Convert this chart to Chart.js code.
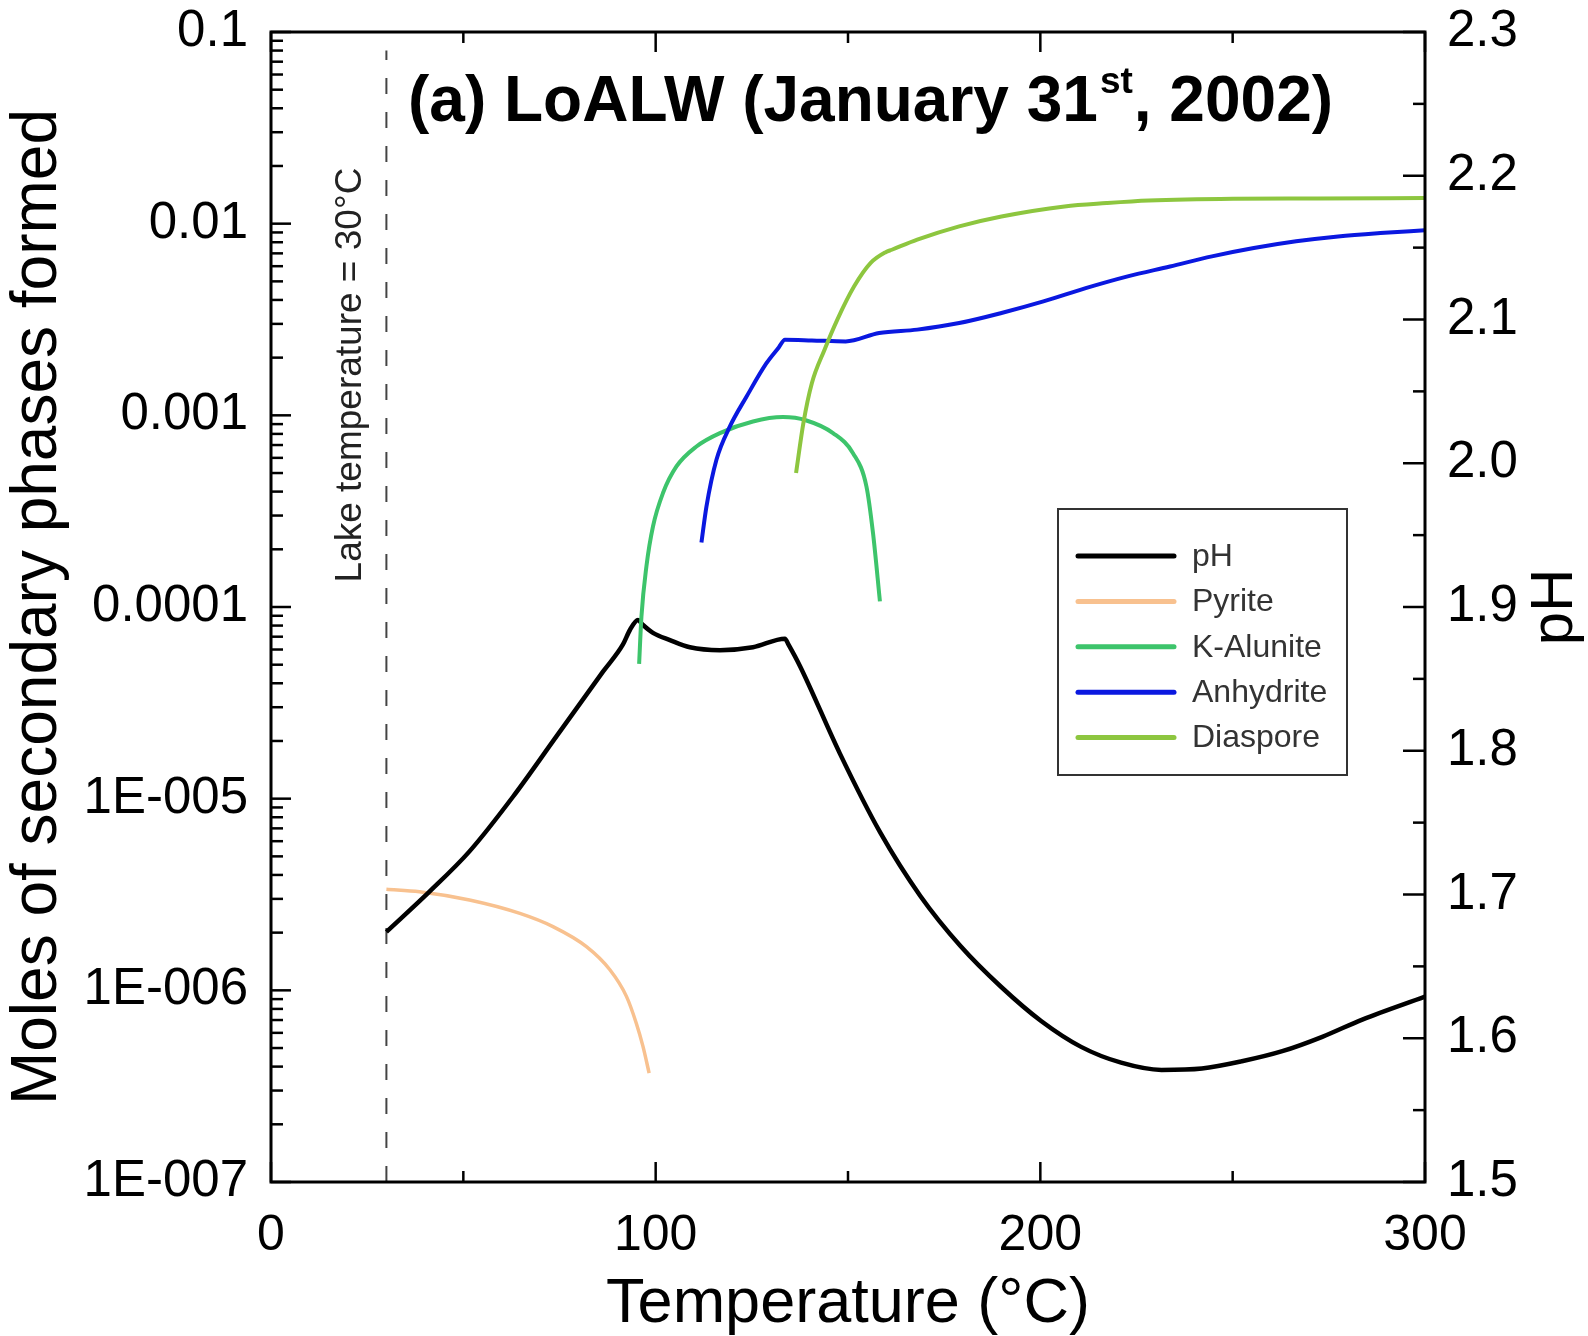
<!DOCTYPE html>
<html>
<head>
<meta charset="utf-8">
<script src="https://cdn.jsdelivr.net/npm/chart.js@4.4.1/dist/chart.umd.min.js"></script>
<style>
html,body{margin:0;padding:0;background:#fff;}
#wrap{width:1588px;height:1336px;position:relative;}
canvas{display:block;}
</style>
</head>
<body>
<div id="wrap"><canvas id="c" width="1588" height="1336"></canvas></div>
<script>
const FONT = '"Liberation Sans", Arial, Helvetica, sans-serif';

// ---- Data ----
const phTemp  = [30, 41.2, 51.6, 62.9, 74.2, 86.3, 91.5, 93.3, 95.4, 96.5, 99.3, 103.7, 108.9, 116.7, 125.3, 133.6, 134.5, 137.5, 147.9, 158.4, 168.8, 179.3, 189.7, 200.2, 210.6, 221.0, 231.5, 242.0, 252.4, 262.9, 273.3, 283.7, 300];
const phValue = [1.674, 1.702, 1.730, 1.768, 1.810, 1.855, 1.874, 1.884, 1.891, 1.888, 1.882, 1.877, 1.872, 1.870, 1.872, 1.878, 1.874, 1.859, 1.798, 1.743, 1.699, 1.664, 1.636, 1.612, 1.594, 1.583, 1.578, 1.579, 1.584, 1.591, 1.601, 1.613, 1.629];

const pyriteTemp  = [30, 38.6, 51.6, 64.7, 73.3, 82.0, 88.1, 92.4, 95.0, 96.7, 98.3];
const pyriteMoles = [3.37e-6, 3.27e-6, 2.96e-6, 2.52e-6, 2.15e-6, 1.69e-6, 1.28e-6, 9.3e-7, 6.7e-7, 5.1e-7, 3.7e-7];

const kAluniteTemp  = [95.7, 96.3, 97.6, 99.3, 101.9, 105.4, 110.6, 116.7, 125.3, 133.1, 139.2, 146.1, 151.3, 154.8, 156.5, 158.3];
const kAluniteMoles = [5.05e-5, 8.9e-5, 1.63e-4, 2.63e-4, 3.93e-4, 5.41e-4, 6.88e-4, 8.08e-4, 9.29e-4, 9.79e-4, 9.40e-4, 8.08e-4, 6.35e-4, 4.25e-4, 2.43e-4, 1.07e-4];

const anhydriteTemp  = [111.9, 113.2, 115.8, 119.3, 123.6, 128.8, 132.0, 133.6, 140.6, 149.4, 158.1, 168.0, 178.9, 189.9, 200.8, 211.8, 222.7, 233.7, 244.6, 255.5, 266.5, 277.4, 288.4, 300];
const anhydriteMoles = [2.17e-4, 3.34e-4, 5.86e-4, 8.75e-4, 1.25e-3, 1.87e-3, 2.26e-3, 2.48e-3, 2.46e-3, 2.43e-3, 2.69e-3, 2.80e-3, 3.03e-3, 3.42e-3, 3.93e-3, 4.61e-3, 5.31e-3, 5.98e-3, 6.75e-3, 7.46e-3, 8.09e-3, 8.58e-3, 8.93e-3, 9.23e-3];

const diasporeTemp  = [136.5, 138.4, 140.6, 143.9, 147.2, 151.6, 155.9, 159.8, 161.4, 168.0, 178.9, 189.9, 206.3, 217.2, 228.2, 250.1, 272.0, 300];
const diasporeMoles = [5.0e-4, 9.1e-4, 1.47e-3, 2.20e-3, 3.15e-3, 4.71e-3, 6.24e-3, 7.1e-3, 7.31e-3, 8.25e-3, 9.68e-3, 1.09e-2, 1.23e-2, 1.28e-2, 1.32e-2, 1.35e-2, 1.355e-2, 1.36e-2];

const lakeTemp  = [30, 30];
const lakeMoles = [1e-7, 0.08];

// ---- Ticks / labels ----
const xTicks = [0, 100, 200, 300];
const xMinorTicks = [50, 150, 250];
const molesTicks = [1e-7, 1e-6, 1e-5, 1e-4, 1e-3, 1e-2, 1e-1];
const molesTickLabels = ['1E-007', '1E-006', '1E-005', '0.0001', '0.001', '0.01', '0.1'];
const logMinorMultipliers = [2, 3, 4, 5, 6, 7, 8, 9];
const phTicks = [1.5, 1.6, 1.7, 1.8, 1.9, 2.0, 2.1, 2.2, 2.3];
const phMinorTicks = [1.55, 1.65, 1.75, 1.85, 1.95, 2.05, 2.15, 2.25];

const titleMain = '(a) LoALW (January 31';
const titleSup = 'st';
const titleEnd = ', 2002)';
const xTitle = 'Temperature (°C)';
const yTitle = 'Moles of secondary phases formed';
const y2Title = 'pH';
const lakeLabel = 'Lake temperature = 30°C';
const legendOrder = ['pH', 'Pyrite', 'K-Alunite', 'Anhydrite', 'Diaspore'];

const pts = (xs, ys) => xs.map((x, i) => ({x: x, y: ys[i]}));

const datasets = [
  {label: 'Pyrite', data: pts(pyriteTemp, pyriteMoles), borderColor: '#F8C18F', borderWidth: 3.5, yAxisID: 'y', order: 5},
  {label: 'pH', data: pts(phTemp, phValue), borderColor: '#000000', borderWidth: 4.5, yAxisID: 'yPH', order: 4},
  {label: 'K-Alunite', data: pts(kAluniteTemp, kAluniteMoles), borderColor: '#3DC46B', borderWidth: 4, yAxisID: 'y', order: 3},
  {label: 'Anhydrite', data: pts(anhydriteTemp, anhydriteMoles), borderColor: '#0A18E0', borderWidth: 4, yAxisID: 'y', order: 2},
  {label: 'Diaspore', data: pts(diasporeTemp, diasporeMoles), borderColor: '#8DC63F', borderWidth: 4, yAxisID: 'y', order: 1}
];
datasets.forEach(d => { d.pointRadius = 0; d.cubicInterpolationMode = 'monotone'; d.fill = false; d.borderCapStyle = 'butt'; d.borderJoinStyle = 'round'; });
datasets.push({label: 'lake', data: pts(lakeTemp, lakeMoles), borderColor: '#444444', borderWidth: 2, borderDash: [16, 18], yAxisID: 'y', order: 6, pointRadius: 0, tension: 0, fill: false});

const decor = {
  id: 'decor',
  afterDatasetsDraw(chart) {
    const ctx = chart.ctx, a = chart.chartArea, s = chart.scales;
    ctx.save();
    ctx.strokeStyle = '#000';
    ctx.lineWidth = 2.5;
    const tick = (x1, y1, x2, y2) => { ctx.beginPath(); ctx.moveTo(x1, y1); ctx.lineTo(x2, y2); ctx.stroke(); };
    xTicks.forEach(v => { const x = s.x.getPixelForValue(v); tick(x, a.bottom, x, a.bottom - 20); tick(x, a.top, x, a.top + 20); });
    xMinorTicks.forEach(v => { const x = s.x.getPixelForValue(v); tick(x, a.bottom, x, a.bottom - 11); tick(x, a.top, x, a.top + 11); });
    molesTicks.forEach((v, i) => {
      const y = s.y.getPixelForValue(v); tick(a.left, y, a.left + 20, y);
      if (i < molesTicks.length - 1) logMinorMultipliers.forEach(k => { const ym = s.y.getPixelForValue(v * k); tick(a.left, ym, a.left + 12, ym); });
    });
    phTicks.forEach(v => { const y = s.yPH.getPixelForValue(v); tick(a.right, y, a.right - 22, y); });
    phMinorTicks.forEach(v => { const y = s.yPH.getPixelForValue(v); tick(a.right, y, a.right - 12, y); });
    ctx.lineWidth = 3;
    ctx.strokeRect(a.left, a.top, a.right - a.left, a.bottom - a.top);

    // legend
    const lx = 1058, ly = 509, lw = 289, lh = 266;
    ctx.fillStyle = '#fff';
    ctx.fillRect(lx, ly, lw, lh);
    ctx.strokeStyle = '#333';
    ctx.lineWidth = 2;
    ctx.strokeRect(lx, ly, lw, lh);
    ctx.font = '32px ' + FONT;
    ctx.textBaseline = 'middle';
    ctx.textAlign = 'left';
    legendOrder.forEach((name, i) => {
      const ds = chart.data.datasets.find(d => d.label === name);
      const yy = 556 + i * 45.4;
      ctx.strokeStyle = ds.borderColor;
      ctx.lineWidth = 5;
      ctx.lineCap = 'round';
      tick(1078, yy, 1174, yy);
      ctx.fillStyle = '#333';
      ctx.fillText(name, 1192, yy + 1);
    });

    // texts
    ctx.fillStyle = '#000';
    ctx.textAlign = 'left';
    ctx.textBaseline = 'alphabetic';
    ctx.font = 'bold 64px ' + FONT;
    let tx = 408;
    ctx.fillText(titleMain, tx, 121);
    tx += ctx.measureText(titleMain).width;
    ctx.font = 'bold 37px ' + FONT;
    ctx.fillText(titleSup, tx + 2, 93);
    tx += ctx.measureText(titleSup).width + 3;
    ctx.font = 'bold 64px ' + FONT;
    ctx.fillText(titleEnd, tx, 121);

    ctx.textAlign = 'center';
    ctx.font = '63px ' + FONT;
    ctx.fillText(xTitle, (a.left + a.right) / 2, 1322);

    ctx.textBaseline = 'middle';
    ctx.save();
    ctx.translate(38, (a.top + a.bottom) / 2);
    ctx.rotate(-Math.PI / 2);
    ctx.font = '64px ' + FONT;
    ctx.fillText(yTitle, 0, 0);
    ctx.restore();

    ctx.save();
    ctx.translate(1555, (a.top + a.bottom) / 2);
    ctx.rotate(-Math.PI / 2);
    ctx.font = '60px ' + FONT;
    ctx.fillText(y2Title, 0, 0);
    ctx.restore();

    ctx.save();
    ctx.translate(351, 375);
    ctx.rotate(-Math.PI / 2);
    ctx.font = '37px ' + FONT;
    ctx.fillStyle = '#222';
    ctx.fillText(lakeLabel, 0, 0);
    ctx.restore();

    ctx.restore();
  }
};

new Chart(document.getElementById('c'), {
  type: 'line',
  data: {datasets: datasets},
  plugins: [decor],
  options: {
    responsive: false,
    animation: false,
    devicePixelRatio: 1,
    layout: {padding: {top: 32, left: 0, right: 0, bottom: 0}},
    plugins: {legend: {display: false}, tooltip: {enabled: false}},
    scales: {
      x: {
        type: 'linear', position: 'bottom', min: 0, max: 300,
        afterBuildTicks: sc => { sc.ticks = xTicks.map(v => ({value: v})); },
        ticks: {font: {family: FONT, size: 50}, color: '#000', padding: 24, maxRotation: 0, autoSkip: false},
        grid: {display: false, drawTicks: false},
        border: {display: false},
        afterFit: sc => { sc.height = 154; sc.paddingLeft = 0; sc.paddingRight = 0; }
      },
      y: {
        type: 'logarithmic', position: 'left', min: 1e-7, max: 0.1,
        afterBuildTicks: sc => { sc.ticks = molesTicks.map(v => ({value: v})); },
        ticks: {
          font: {family: FONT, size: 51}, color: '#000', padding: 23, autoSkip: false,
          callback: v => { const i = molesTicks.findIndex(t => Math.abs(Math.log10(t) - Math.log10(v)) < 1e-6); return i >= 0 ? molesTickLabels[i] : ''; }
        },
        grid: {display: false, drawTicks: false},
        border: {display: false},
        afterFit: sc => { sc.width = 271; sc.paddingTop = 0; sc.paddingBottom = 0; }
      },
      yPH: {
        type: 'linear', position: 'right', min: 1.5, max: 2.3,
        afterBuildTicks: sc => { sc.ticks = phTicks.map(v => ({value: v})); },
        ticks: {font: {family: FONT, size: 51}, color: '#000', padding: 22, autoSkip: false, callback: v => v.toFixed(1)},
        grid: {display: false, drawTicks: false},
        border: {display: false},
        afterFit: sc => { sc.width = 163; sc.paddingTop = 0; sc.paddingBottom = 0; }
      }
    }
  }
});
</script>
</body>
</html>
